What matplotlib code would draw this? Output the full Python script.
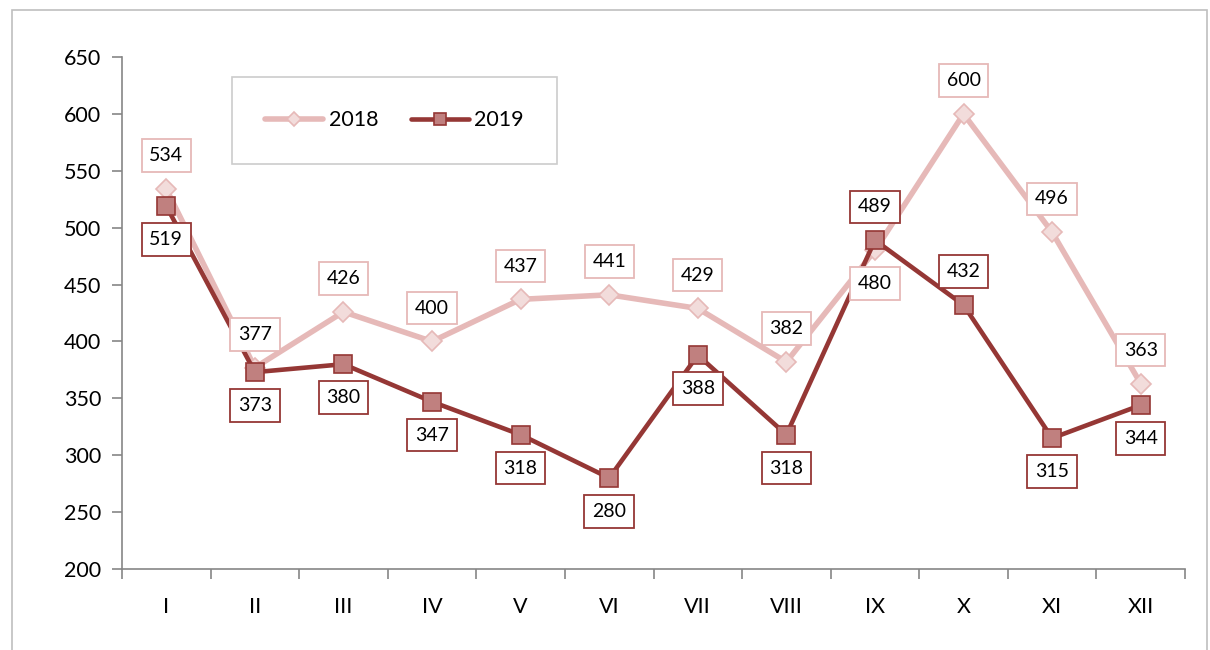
import matplotlib
matplotlib.use("Agg")
import matplotlib.pyplot as plt
from matplotlib.patches import Rectangle

months = ["I", "II", "III", "IV", "V", "VI", "VII", "VIII", "IX", "X", "XI", "XII"]
v2018 = [534, 377, 426, 400, 437, 441, 429, 382, 480, 600, 496, 363]
v2019 = [519, 373, 380, 347, 318, 280, 388, 318, 489, 432, 315, 344]
# label placement: +1 above, -1 below
pos2018 = [1, 1, 1, 1, 1, 1, 1, 1, -1, 1, 1, 1]
pos2019 = [-1, -1, -1, -1, -1, -1, -1, -1, 1, 1, -1, -1]

plt.rcParams['font.family'] = ['Lato', 'DejaVu Sans']

c18_line = "#E6B9B8"
c18_fill = "#F2DCDB"
c19_line = "#953735"
c19_fill = "#C0807F"

fig = plt.figure(figsize=(12.1, 6.5), dpi=100)
fig.patches.append(Rectangle((12/1210, -0.01), (1207-12)/1210, (650-10)/650 + 0.01,
                             transform=fig.transFigure, fill=False,
                             edgecolor="#BFBFBF", linewidth=1.2))
ax = fig.add_axes([122/1210, (650-569)/650, (1185-122)/1210, (569-57)/650])

x = list(range(len(months)))
ax.plot(x, v2018, color=c18_line, lw=4.0, marker="D", markersize=10,
        markerfacecolor=c18_fill, markeredgecolor=c18_line, markeredgewidth=1.2,
        label="2018", zorder=2, solid_capstyle="round")
ax.plot(x, v2019, color=c19_line, lw=3.3, marker="s", markersize=13,
        markerfacecolor=c19_fill, markeredgecolor=c19_line, markeredgewidth=1.2,
        label="2019", zorder=3, solid_capstyle="round")

for xi, v, p in zip(x, v2018, pos2018):
    ax.annotate(str(v), (xi, v), xytext=(0, 24*p), textcoords="offset points",
                ha="center", va="center", fontsize=14, color="black", zorder=5,
                bbox=dict(boxstyle="square,pad=0.4", fc="white", ec=c18_line, lw=1.3))
for xi, v, p in zip(x, v2019, pos2019):
    ax.annotate(str(v), (xi, v), xytext=(0, 24*p), textcoords="offset points",
                ha="center", va="center", fontsize=14, color="black", zorder=6,
                bbox=dict(boxstyle="square,pad=0.4", fc="white", ec=c19_line, lw=1.3))

ax.set_xlim(-0.5, 11.5)
ax.set_ylim(200, 650)
ax.set_yticks(range(200, 651, 50))
ax.set_xticks([i - 0.5 for i in range(13)])
ax.set_xticklabels([])
ax.set_xticks(x, minor=True)
ax.set_xticklabels(months, minor=True)
ax.tick_params(axis="x", which="minor", length=0, pad=20, labelsize=15.5)
ax.tick_params(axis="x", which="major", length=7, direction="out", color="#868686", width=1.2)
ax.tick_params(axis="y", length=7, direction="out", color="#868686", width=1.2, labelsize=15.5, pad=8)
for s in ["top", "right"]:
    ax.spines[s].set_visible(False)
for s in ["left", "bottom"]:
    ax.spines[s].set_color("#868686")
    ax.spines[s].set_linewidth(1.2)

leg = ax.legend(loc="upper left", bbox_to_anchor=((232-122)/1063, (569-77)/512), ncol=2,
                frameon=True, fancybox=False, edgecolor="#BFBFBF", fontsize=15.5,
                handlelength=2.7, columnspacing=1.5, borderpad=1.55, handletextpad=0.25,
                borderaxespad=0, markerscale=0.7)
leg.get_frame().set_linewidth(1.2)

fig.savefig("out.png", dpi=100)
